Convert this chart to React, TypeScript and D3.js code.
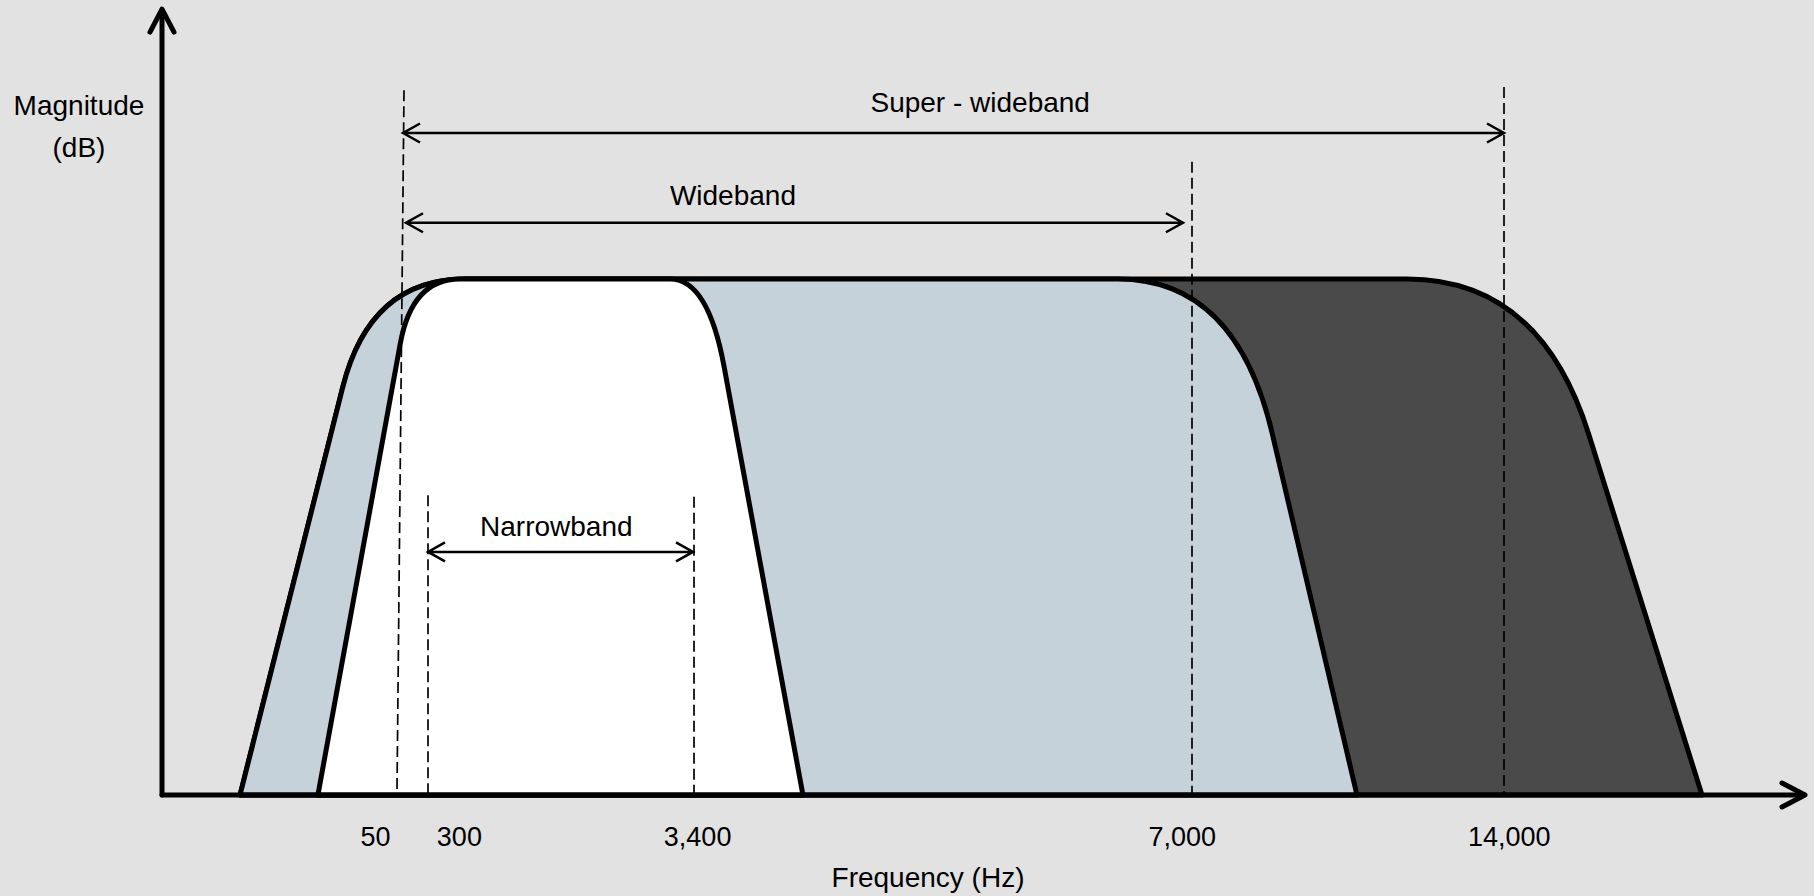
import React from "react";
import * as d3 from "d3";

// x is a schematic position along the frequency axis (0..100), y is relative magnitude (0..1 = passband)
const bandNames = ["Super - wideband", "Wideband", "Narrowband"];
const bandBaseLeft = [4.75, 4.75, 9.49];
const bandTopLeft = [12.66, 12.66, 15.22];
const bandTopRight = [83.87, 65.37, 33.23];
const bandBaseRight = [93.73, 72.73, 39.01];
// roll-off rounding: run along the top (x units) and drop along the side (magnitude)
const leftRun = [5.8, 5.8, 2.9];
const leftDrop = [0.21, 0.21, 0.125];
const rightRun = [8.1, 7.2, 2.3];
const rightDrop = [0.3, 0.3, 0.17];

const tickLabels = ["50", "300", "3,400", "7,000", "14,000"];
const tickLabelPos = [13.0, 18.1, 32.6, 62.1, 82.0];
const guideTopX = [14.73, 16.19, 32.38, 62.69, 81.68];
const guideBottomX = [14.3, 16.19, 32.38, 62.69, 81.68];
const guideTop = [1.366, 0.581, 0.578, 1.227, 1.372];

const spanNames = ["Super - wideband", "Wideband", "Narrowband"];
const spanFrom = [14.67, 14.85, 16.19];
const spanTo = [81.68, 62.14, 32.32];
const spanLevel = [1.283, 1.109, 0.471];
const spanLabelX = [49.8, 34.75, 24.0];
const spanLabelLevel = [1.324, 1.143, 0.502];

const bandFill = ["#4a4a4a", "#c6d2d9", "#ffffff"];

const width = 1814;
const height = 896;
const font = "'Liberation Sans', Arial, Helvetica, sans-serif";

const x = d3.scaleLinear().domain([0, 100]).range([162, 1805]);
const y = d3.scaleLinear().domain([0, 1]).range([795, 279]);

const bandPath = (i: number) => {
  const k = 0.667;
  const y0 = y(0);
  const y1 = y(1);
  const bl = x(bandBaseLeft[i]);
  const cl = x(bandTopLeft[i]);
  const cr = x(bandTopRight[i]);
  const br = x(bandBaseRight[i]);

  const ls = y(1 - leftDrop[i]);
  const lsx = bl + ((cl - bl) * (y0 - ls)) / (y0 - y1);
  const ltx = cl + (x(leftRun[i]) - x(0));
  const rs = y(1 - rightDrop[i]);
  const rsx = br + ((cr - br) * (y0 - rs)) / (y0 - y1);
  const rtx = cr - (x(rightRun[i]) - x(0));

  const p = d3.path();
  p.moveTo(bl, y0);
  p.lineTo(lsx, ls);
  p.bezierCurveTo(
    lsx + (cl - lsx) * k,
    ls + (y1 - ls) * k,
    ltx + (cl - ltx) * k,
    y1,
    ltx,
    y1
  );
  p.lineTo(rtx, y1);
  p.bezierCurveTo(
    rtx + (cr - rtx) * k,
    y1,
    rsx + (cr - rsx) * k,
    rs + (y1 - rs) * k,
    rsx,
    rs
  );
  p.lineTo(br, y0);
  p.closePath();
  return p.toString();
};

const App: React.FC = () => {
  const ox = x(0);
  const oy = y(0);
  const xEnd = x(100);
  const yEnd = y(1.523);

  return (
    <div style={{ position: "absolute", left: 0, top: 0, width, height }}>
      <svg width={width} height={height} style={{ display: "block", fontFamily: font }}>
        <rect width={width} height={height} fill="#e2e2e2" />

        {/* pass bands, widest at the back */}
        <g>
          {bandNames.map((name, i) => (
            <path
              key={name}
              d={bandPath(i)}
              fill={bandFill[i]}
              stroke="#000"
              strokeWidth={5}
              strokeLinejoin="round"
            />
          ))}
        </g>

        {/* dashed band edges */}
        <g stroke="#000" strokeWidth={1.7} strokeDasharray="11 5">
          {tickLabels.map((t, i) => (
            <line
              key={t}
              x1={x(guideTopX[i])}
              y1={y(guideTop[i])}
              x2={x(guideBottomX[i])}
              y2={oy}
            />
          ))}
        </g>

        {/* band spans */}
        <g>
          {spanNames.map((name, i) => {
            const a = x(spanFrom[i]);
            const b = x(spanTo[i]);
            const yy = y(spanLevel[i]);
            return (
              <g key={name}>
                <path
                  d={`M${a},${yy}H${b}M${a + 17},${yy - 9.5}L${a},${yy}L${a + 17},${yy + 9.5}M${b - 17},${yy - 9.5}L${b},${yy}L${b - 17},${yy + 9.5}`}
                  fill="none"
                  stroke="#000"
                  strokeWidth={2.5}
                />
                <text
                  x={x(spanLabelX[i])}
                  y={y(spanLabelLevel[i])}
                  textAnchor="middle"
                  fontSize={28}
                  fill="#000"
                >
                  {name}
                </text>
              </g>
            );
          })}
        </g>

        {/* axes */}
        <g fill="none" stroke="#000" strokeWidth={5} strokeLinecap="round" strokeLinejoin="round">
          <line x1={ox} y1={oy} x2={xEnd - 2} y2={oy} />
          <path d={`M${xEnd - 23},${oy - 12}L${xEnd},${oy}L${xEnd - 23},${oy + 12}`} />
          <line x1={ox} y1={oy} x2={ox} y2={yEnd + 2} />
          <path d={`M${ox - 12},${yEnd + 23}L${ox},${yEnd}L${ox + 12},${yEnd + 23}`} />
        </g>

        {/* tick labels */}
        <g fontSize={27} fill="#000" textAnchor="middle">
          {tickLabels.map((t, i) => (
            <text key={t} x={x(tickLabelPos[i])} y={846}>
              {t}
            </text>
          ))}
        </g>

        <text x={928} y={887} fontSize={28} textAnchor="middle" fill="#000">
          Frequency (Hz)
        </text>
        <text x={79} y={115} fontSize={28} textAnchor="middle" fill="#000">
          Magnitude
        </text>
        <text x={79} y={157} fontSize={28} textAnchor="middle" fill="#000">
          (dB)
        </text>
      </svg>
    </div>
  );
};

export default App;
